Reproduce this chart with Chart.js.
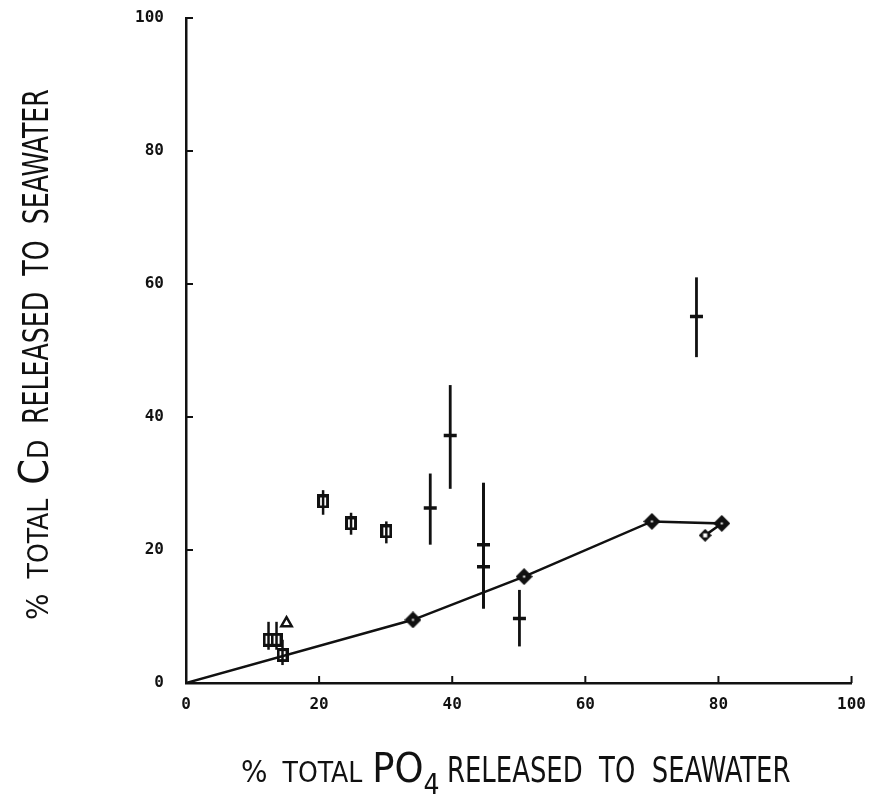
<!DOCTYPE html>
<html lang="en">
<head>
    <meta charset="UTF-8">
    <script src="https://cdn.jsdelivr.net/npm/chart.js"></script>
    <title>Cd vs PO4 release</title>
</head>
<style>
    body {
        margin: 0;
        background: #fff;
    }
    .wrap {
        position: relative;
        width: 878px;
        height: 803px;
    }
    canvas {
        position: absolute;
        left: 0;
        top: 0;
    }
    .axis-title {
        position: absolute;
        display: flex;
        align-items: baseline;
        white-space: nowrap;
        font-family: "Liberation Sans Narrow", "DejaVu Sans Condensed", sans-serif;
        color: #111;
        line-height: 1;
    }
    .axis-title span { display: inline-block; }
    .pct { font-size: 31px; margin-right: 15px; }
    .small { font-size: 28px; }
    .tot { margin-right: 10px; }
    .huge { font-size: 41px; }
    .sub { font-size: 28px; position: relative; top: 12px; margin-right: 7px; }
    .cap { margin-right: 16px; }
    .big { font-size: 36px; transform: scaleX(0.8); transform-origin: left center; }
    #ytitle {
        transform: rotate(-90deg);
        transform-origin: left top;
    }
    #ytitle .big { transform: scaleX(0.78); }
</style>
<body>
    <div class="wrap">
        <canvas id="chart" width="878" height="803"></canvas>
        <div id="xtitle" class="axis-title" style="left:241px; top:748px;"><span class="pct">%</span><span class="small tot">TOTAL</span><span class="huge">PO</span><span class="sub">4</span><span class="big">RELEASED&nbsp; TO&nbsp; SEAWATER</span></div>
        <div id="ytitle" class="axis-title" style="left:14px; top:620px;"><span class="pct">%</span><span class="small tot" style="margin-right:14px">TOTAL</span><span class="huge">C</span><span class="small cap">D</span><span class="big">RELEASED&nbsp; TO&nbsp; SEAWATER</span></div>
    </div>

    <script>
        // fitted line through the filled diamonds
        var lineX = [0, 34.1, 50.8, 70.0, 80.5, 78.0];
        var lineY = [0, 9.5, 16.0, 24.3, 24.0, 22.2];

        // open boxes with their ranges
        var boxX = [12.4, 13.6, 14.5, 20.6, 24.8, 30.1];
        var boxY = [6.5, 6.5, 4.2, 27.3, 24.0, 22.8];
        var boxLow = [5.0, 5.0, 2.7, 25.3, 22.3, 21.0];
        var boxHigh = [9.2, 9.2, 6.5, 29.0, 25.6, 24.3];

        // dash markers with their ranges
        var dashX = [36.7, 39.7, 44.7, 44.7, 50.1, 76.7];
        var dashY = [26.3, 37.2, 20.8, 17.5, 9.7, 55.1];
        var dashLow = [20.8, 29.2, 11.2, 11.2, 5.5, 49.0];
        var dashHigh = [31.5, 44.8, 30.1, 30.1, 14.0, 61.0];

        // single triangle
        var triX = [15.1];
        var triY = [9.0];

        var xTicks = [0, 20, 40, 60, 80, 100];
        var yTicks = [0, 20, 40, 60, 80, 100];

        function toPoints(xs, ys) {
            return xs.map(function (x, i) { return { x: x, y: ys[i] }; });
        }

        // little canvases used as point styles
        function makeDiamond(size, dot) {
            var c = document.createElement('canvas');
            c.width = size; c.height = size;
            var g = c.getContext('2d');
            var h = size / 2;
            g.fillStyle = '#111';
            g.beginPath();
            g.moveTo(h, 0); g.lineTo(size, h); g.lineTo(h, size); g.lineTo(0, h);
            g.closePath();
            g.fill();
            g.fillStyle = '#fff';
            g.fillRect(h - dot / 2, h - dot / 2, dot, dot);
            return c;
        }

        function makeBox(w, h) {
            var c = document.createElement('canvas');
            c.width = w; c.height = h;
            var g = c.getContext('2d');
            g.fillStyle = '#fff';
            g.fillRect(0, 0, w, h);
            g.strokeStyle = '#111';
            g.lineWidth = 3;
            g.strokeRect(1.5, 1.5, w - 3, h - 3);
            return c;
        }

        var bigDiamond = makeDiamond(17, 2);
        var smallDiamond = makeDiamond(13, 4);
        var boxMark = makeBox(12, 14);

        // vertical range bars drawn from errLow/errHigh
        var rangeBars = {
            id: 'rangeBars',
            afterDatasetsDraw: function (chart) {
                var ctx = chart.ctx;
                var xs = chart.scales.x, ys = chart.scales.y;
                chart.data.datasets.forEach(function (ds) {
                    if (!ds.errLow) return;
                    ctx.save();
                    ctx.strokeStyle = '#111';
                    ctx.lineWidth = ds.errWidth || 2.5;
                    ds.data.forEach(function (p, i) {
                        var px = xs.getPixelForValue(p.x);
                        ctx.beginPath();
                        ctx.moveTo(px, ys.getPixelForValue(ds.errLow[i]));
                        ctx.lineTo(px, ys.getPixelForValue(ds.errHigh[i]));
                        ctx.stroke();
                    });
                    ctx.restore();
                });
            }
        };

        // tick marks pointing into the plot
        var innerTicks = {
            id: 'innerTicks',
            afterDraw: function (chart) {
                var ctx = chart.ctx;
                var a = chart.chartArea;
                var xs = chart.scales.x, ys = chart.scales.y;
                ctx.save();
                ctx.strokeStyle = '#111';
                ctx.lineWidth = 2;
                xTicks.forEach(function (v) {
                    if (v === 0) return;
                    var px = xs.getPixelForValue(v);
                    ctx.beginPath();
                    ctx.moveTo(px, a.bottom);
                    ctx.lineTo(px, a.bottom - 7);
                    ctx.stroke();
                });
                yTicks.forEach(function (v) {
                    if (v === 0) return;
                    var py = ys.getPixelForValue(v);
                    ctx.beginPath();
                    ctx.moveTo(a.left, py);
                    ctx.lineTo(a.left + 7, py);
                    ctx.stroke();
                });
                ctx.restore();
            }
        };

        var tickFont = { family: '"DejaVu Sans Mono", monospace', size: 16, weight: 'bold' };

        var ctx = document.getElementById('chart').getContext('2d');
        new Chart(ctx, {
            type: 'scatter',
            data: {
                datasets: [
                    {
                        label: 'fit',
                        data: toPoints(lineX, lineY),
                        showLine: true,
                        borderColor: '#111',
                        borderWidth: 2.5,
                        tension: 0,
                        pointRadius: [0, 8, 8, 8, 8, 6],
                        pointStyle: [bigDiamond, bigDiamond, bigDiamond, bigDiamond, bigDiamond, smallDiamond]
                    },
                    {
                        label: 'boxes',
                        data: toPoints(boxX, boxY),
                        pointStyle: boxMark,
                        pointRadius: 6,
                        errLow: boxLow,
                        errHigh: boxHigh,
                        errWidth: 2.5
                    },
                    {
                        label: 'dashes',
                        data: toPoints(dashX, dashY),
                        pointStyle: 'line',
                        pointRadius: 6.5,
                        pointBorderWidth: 3.5,
                        borderColor: '#111',
                        errLow: dashLow,
                        errHigh: dashHigh,
                        errWidth: 2.8
                    },
                    {
                        label: 'triangle',
                        data: toPoints(triX, triY),
                        pointStyle: 'triangle',
                        pointRadius: 6,
                        pointBorderWidth: 2.5,
                        borderColor: '#111',
                        backgroundColor: '#fff'
                    }
                ]
            },
            options: {
                responsive: false,
                animation: false,
                layout: { padding: { left: 0, right: 25, top: 18, bottom: 0 } },
                plugins: {
                    legend: { display: false },
                    tooltip: { enabled: false }
                },
                scales: {
                    x: {
                        type: 'linear',
                        min: 0,
                        max: 100,
                        afterBuildTicks: function (s) { s.ticks = xTicks.map(function (v) { return { value: v }; }); },
                        afterFit: function (s) { s.height = 120; },
                        grid: { display: false, drawTicks: false },
                        border: { color: '#111', width: 2.5 },
                        ticks: { color: '#111', font: tickFont, padding: 12, maxRotation: 0 }
                    },
                    y: {
                        type: 'linear',
                        min: 0,
                        max: 100,
                        afterBuildTicks: function (s) { s.ticks = yTicks.map(function (v) { return { value: v }; }); },
                        afterFit: function (s) { s.width = 186; },
                        // invisible tick length keeps the labels off the axis without padding the top
                        grid: { display: true, drawOnChartArea: false, drawTicks: true, tickLength: 22, color: 'rgba(0,0,0,0)' },
                        border: { color: '#111', width: 2.5 },
                        ticks: { color: '#111', font: tickFont, padding: 0 }
                    }
                }
            },
            plugins: [rangeBars, innerTicks]
        });
    </script>
</body>
</html>
